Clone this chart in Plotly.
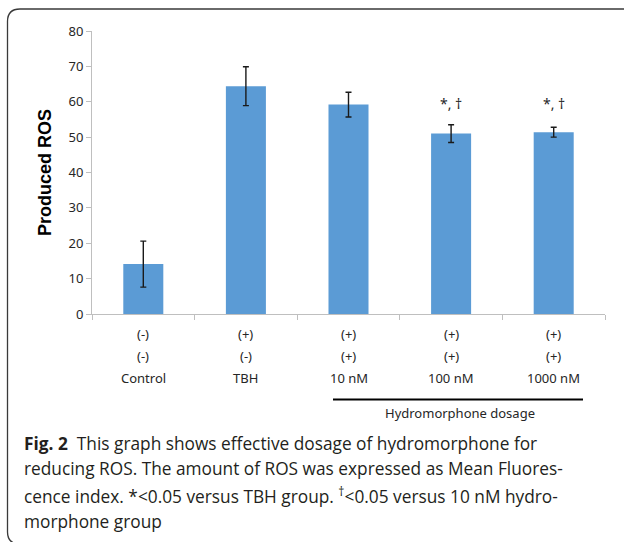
import plotly.graph_objects as go

# ---- data ----
categories = ["Control", "TBH", "10 nM", "100 nM", "1000 nM"]
tbh_row = ["(-)", "(+)", "(+)", "(+)", "(+)"]
hydro_row = ["(-)", "(-)", "(+)", "(+)", "(+)"]
ros_mean = [14.1, 64.4, 59.2, 51.0, 51.4]
ros_err = [6.5, 5.5, 3.5, 2.5, 1.4]
sig_labels = ["", "", "", "*, †", "*, †"]

caption_lines = [
    "<b>Fig. 2</b>\u00a0 This graph shows effective dosage of hydromorphone for",
    "reducing ROS. The amount of ROS was expressed as Mean Fluores-",
    "cence index. *&lt;0.05 versus TBH group. <sup>†</sup>&lt;0.05 versus 10 nM hydro-",
    "morphone group",
]

# ---- layout geometry (pixels) ----
W, H = 624, 542
L, R, T, B = 92, 19, 31, 228
PW = W - L - R
PH = H - T - B


def px_x(px):
    return (px - L) / PW


def px_y(py):
    return (H - B - py) / PH


TICKFONT = dict(family="Noto Sans, Open Sans, sans-serif", size=13, color="#262626")
AXCOL = "#bfbfbf"

fig = go.Figure()
fig.add_trace(go.Bar(
    x=categories, y=ros_mean, width=0.39,
    marker=dict(color="#5b9bd5", line=dict(width=0)),
    error_y=dict(type="data", array=ros_err, visible=True,
                 color="#1a1a1a", thickness=1.4, width=3),
    showlegend=False, hoverinfo="skip",
))

annotations = []
# significance markers
for c, s in zip(categories, sig_labels):
    if s:
        annotations.append(dict(x=c, y=59.6, xref="x", yref="y", text=s,
                                showarrow=False, font=dict(TICKFONT, size=14),
                                yanchor="middle"))
# category rows
for row, py in ((tbh_row, 334), (hydro_row, 356), (categories, 378)):
    for c, t in zip(categories, row):
        annotations.append(dict(x=c, y=px_y(py), xref="x", yref="paper", text=t,
                                showarrow=False, font=TICKFONT,
                                xanchor="center", yanchor="middle"))
# dosage label
annotations.append(dict(x=px_x(460), y=px_y(413), xref="paper", yref="paper",
                        text="Hydromorphone dosage", showarrow=False,
                        font=TICKFONT, xanchor="center", yanchor="middle"))
# caption
for i, line in enumerate(caption_lines):
    annotations.append(dict(x=px_x(22), y=px_y(443 + 26 * i), xref="paper", yref="paper",
                            text=line, showarrow=False, align="left",
                            font=dict(family="Open Sans, sans-serif", size=17.3, color="#231f20"),
                            xanchor="left", yanchor="middle"))

shapes = [
    # dosage bracket line
    dict(type="line", xref="paper", yref="paper",
         x0=px_x(333), x1=px_x(583), y0=px_y(399.5), y1=px_y(399.5),
         line=dict(color="#000000", width=2)),
    # rounded frame
    dict(type="path", xref="paper", yref="paper",
         path=(f"M {px_x(640)},{px_y(9)} L {px_x(20)},{px_y(9)} "
               f"Q {px_x(7.5)},{px_y(9)} {px_x(7.5)},{px_y(21.5)} "
               f"L {px_x(7.5)},{px_y(532)} "
               f"Q {px_x(7.5)},{px_y(544)} {px_x(20)},{px_y(544)} "
               f"L {px_x(640)},{px_y(544)}"),
         line=dict(color="#3a3a3a", width=1.3)),
]

fig.update_layout(
    width=W, height=H,
    margin=dict(l=L, r=R, t=T, b=B, pad=0),
    paper_bgcolor="white", plot_bgcolor="white",
    annotations=annotations, shapes=shapes,
    xaxis=dict(type="category", range=[-0.5, 4.5], showticklabels=False,
               showline=True, linecolor=AXCOL, linewidth=1,
               ticks="outside", tickson="boundaries", ticklen=5, tickcolor=AXCOL,
               showgrid=False, zeroline=False),
    yaxis=dict(range=[0, 80], dtick=10, showline=True, linecolor=AXCOL, linewidth=1,
               ticks="outside", ticklen=5, tickcolor=AXCOL, tickfont=TICKFONT,
               showgrid=False, zeroline=False,
               title=dict(text="<b>Produced ROS</b>", standoff=12,
                          font=dict(family="Liberation Sans, Arial, sans-serif",
                                    size=18, color="#000000"))),
)

fig.write_html("out.html", config={"displayModeBar": False},
               post_script="document.body.style.margin='0';")
